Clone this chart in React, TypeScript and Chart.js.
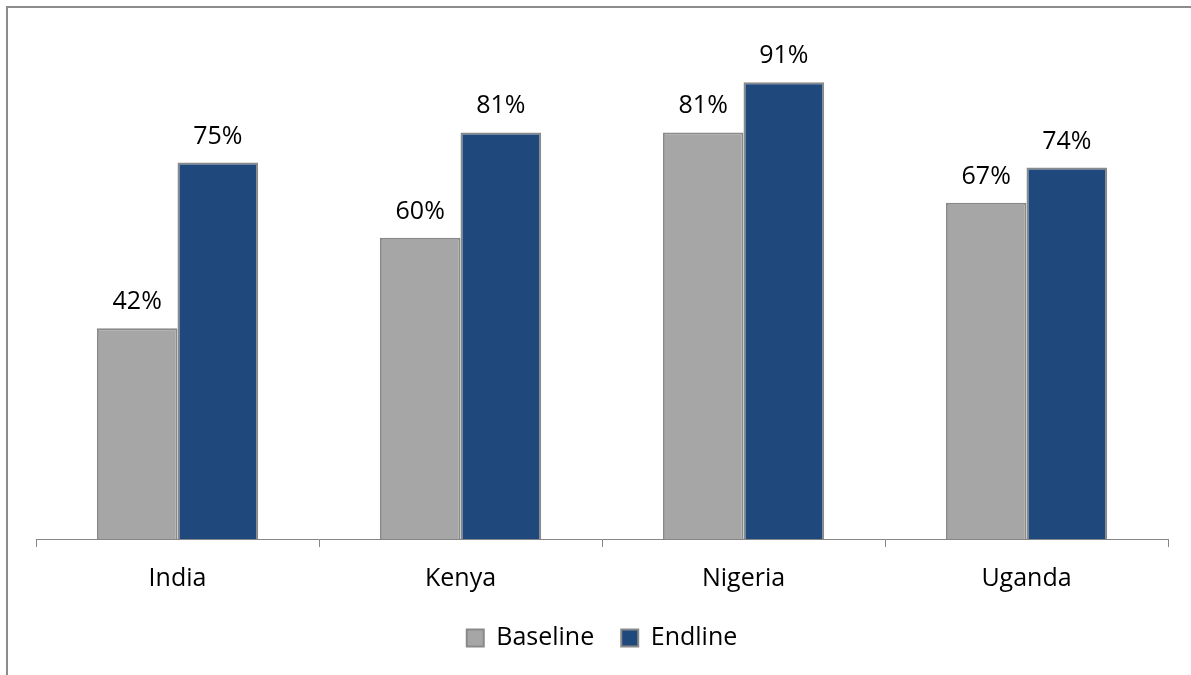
import React, { useEffect, useRef } from "react";
import { Chart, registerables } from "chart.js";

Chart.register(...registerables);

const countries = ["India", "Kenya", "Nigeria", "Uganda"];
const baseline = [42, 60, 81, 67];
const endline = [75, 81, 91, 74];
const seriesNames = ["Baseline", "Endline"];

const FONT = "'Open Sans', 'Noto Sans', sans-serif";
const FONT_SIZE = 25;

// Outer frame: a grey line along the left and top edges.
const framePlugin = {
  id: "frame",
  beforeDraw(chart: Chart) {
    const { ctx, width, height } = chart;
    ctx.save();
    ctx.strokeStyle = "#8c8c8c";
    ctx.lineWidth = 2;
    ctx.beginPath();
    ctx.moveTo(7, height);
    ctx.lineTo(7, 7);
    ctx.lineTo(width, 7);
    ctx.stroke();
    ctx.restore();
  },
};

// Percentage labels above each bar.
const valueLabelPlugin = {
  id: "valueLabels",
  afterDatasetsDraw(chart: Chart) {
    const { ctx } = chart;
    ctx.save();
    ctx.font = `${FONT_SIZE}px ${FONT}`;
    ctx.fillStyle = "#000000";
    ctx.textAlign = "center";
    ctx.textBaseline = "alphabetic";
    chart.data.datasets.forEach((ds, di) => {
      const meta = chart.getDatasetMeta(di);
      meta.data.forEach((el: any, i: number) => {
        const v = ds.data[i] as number;
        ctx.fillText(`${v}%`, el.x, el.y - 19);
      });
    });
    ctx.restore();
  },
};

export default function App() {
  const ref = useRef<HTMLCanvasElement | null>(null);

  useEffect(() => {
    if (!ref.current) return;
    const chart = new Chart(ref.current, {
      type: "bar",
      data: {
        labels: countries,
        datasets: [
          {
            label: seriesNames[0],
            data: baseline,
            backgroundColor: "#a6a6a6",
            borderColor: "#898989",
            borderWidth: 2,
            borderSkipped: "bottom",
          },
          {
            label: seriesNames[1],
            data: endline,
            backgroundColor: "#1f497d",
            borderColor: "#898989",
            borderWidth: 2,
            borderSkipped: "bottom",
          },
        ],
      },
      options: {
        responsive: false,
        animation: false,
        devicePixelRatio: 1,
        datasets: {
          bar: {
            categoryPercentage: 0.57,
            barPercentage: 1,
          },
        },
        layout: {
          padding: { left: 36, right: 23, top: 37, bottom: 14.5 },
        },
        scales: {
          x: {
            grid: {
              display: true,
              drawOnChartArea: false,
              drawTicks: true,
              tickLength: 8,
              color: "#868686",
              lineWidth: 1,
            },
            border: { display: true, color: "#868686", width: 1 },
            ticks: {
              color: "#000000",
              font: { family: FONT, size: FONT_SIZE },
              padding: 16.5,
            },
            afterFit(scale: any) {
              scale.height -= 11.5;
            },
          },
          y: {
            display: false,
            min: 0,
            max: 100,
          },
        },
        plugins: {
          legend: {
            display: true,
            position: "bottom",
            labels: {
              boxWidth: 17,
              boxHeight: 17,
              padding: 27,
              color: "#000000",
              font: { family: FONT, size: FONT_SIZE },
            },
          },
          tooltip: { enabled: false },
        },
      },
      plugins: [framePlugin, valueLabelPlugin],
    });
    return () => chart.destroy();
  }, []);

  return (
    <div style={{ position: "fixed", left: 0, top: 0, width: 1191, height: 675, background: "#ffffff" }}>
      <canvas ref={ref} width={1191} height={675} style={{ display: "block" }} />
    </div>
  );
}
